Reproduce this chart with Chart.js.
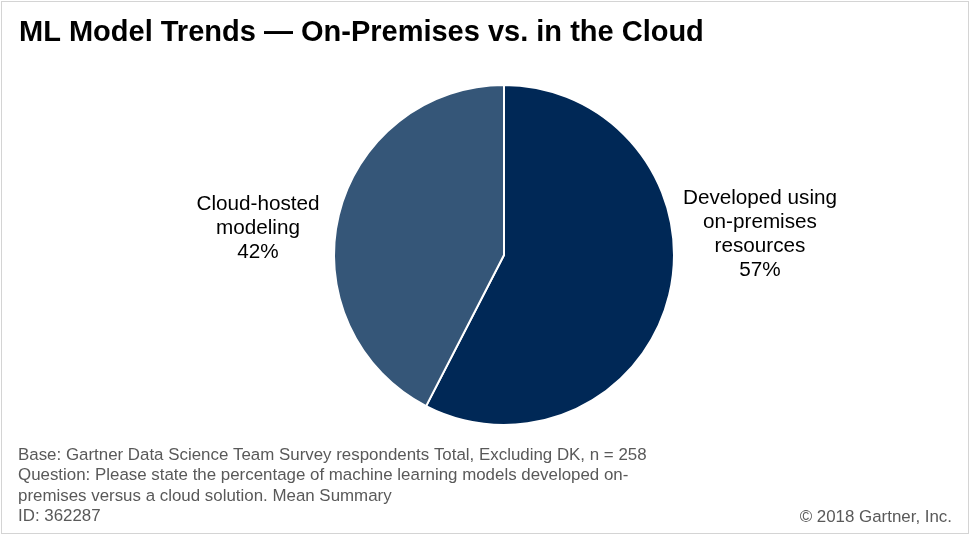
<!DOCTYPE html>
<html>
<head>
<meta charset="utf-8">
<script src="https://cdn.jsdelivr.net/npm/chart.js@4/dist/chart.umd.min.js"></script>
<style>
  html, body { margin: 0; padding: 0; background: #ffffff; }
  #wrap { width: 970px; height: 536px; position: relative; }
</style>
</head>
<body>
<div id="wrap"><canvas id="c" width="970" height="536"></canvas></div>
<script>
const categories = ["Developed using on-premises resources", "Cloud-hosted modeling"];
const labelLines = [["Developed using", "on-premises", "resources"], ["Cloud-hosted", "modeling"]];
const values = [57, 42];
const colors = ["#002856", "#355678"];
const titleText = "ML Model Trends \u2014 On-Premises vs. in the Cloud";
const footnotes = [
  "Base: Gartner Data Science Team Survey respondents Total, Excluding DK, n = 258",
  "Question: Please state the percentage of machine learning models developed on-",
  "premises versus a cloud solution. Mean Summary",
  "ID: 362287"
];
const copyright = "\u00a9 2018 Gartner, Inc.";

const textPlugin = {
  id: 'texts',
  afterDraw(chart) {
    const ctx = chart.ctx;
    ctx.save();
    ctx.strokeStyle = '#d4d4d4';
    ctx.lineWidth = 1;
    ctx.strokeRect(1.5, 1.5, 967, 532);
    ctx.fillStyle = '#000000';
    ctx.font = 'bold 29px "Liberation Sans", Arial, sans-serif';
    ctx.textAlign = 'left';
    ctx.textBaseline = 'alphabetic';
    ctx.fillText(titleText, 19, 41);
    const meta = chart.getDatasetMeta(0);
    const cx = meta.data[0].x, cy = meta.data[0].y;
    ctx.font = '20.7px "Liberation Sans", Arial, sans-serif';
    ctx.textAlign = 'center';
    ctx.textBaseline = 'middle';
    const offsets = [[256, -57], [-246, -51]];
    values.forEach((v, i) => {
      const lines = labelLines[i].concat([v + '%']);
      lines.forEach((ln, j) => {
        ctx.fillText(ln, cx + offsets[i][0], cy + offsets[i][1] + j * 24);
      });
    });
    ctx.fillStyle = '#595959';
    ctx.font = '16.9px "Liberation Sans", Arial, sans-serif';
    ctx.textAlign = 'left';
    ctx.textBaseline = 'middle';
    footnotes.forEach((t, i) => ctx.fillText(t, 18, 455 + i * 20.5));
    ctx.textAlign = 'right';
    ctx.fillText(copyright, 952, 517);
    ctx.restore();
  }
};

new Chart(document.getElementById('c'), {
  type: 'pie',
  data: {
    labels: categories,
    datasets: [{
      data: values,
      backgroundColor: colors,
      borderColor: '#ffffff',
      borderWidth: 2
    }]
  },
  options: {
    responsive: false,
    animation: false,
    layout: { padding: { left: 333, right: 295, top: 84, bottom: 110 } },
    plugins: { legend: { display: false }, tooltip: { enabled: false }, title: { display: false } }
  },
  plugins: [textPlugin]
});
</script>
</body>
</html>
